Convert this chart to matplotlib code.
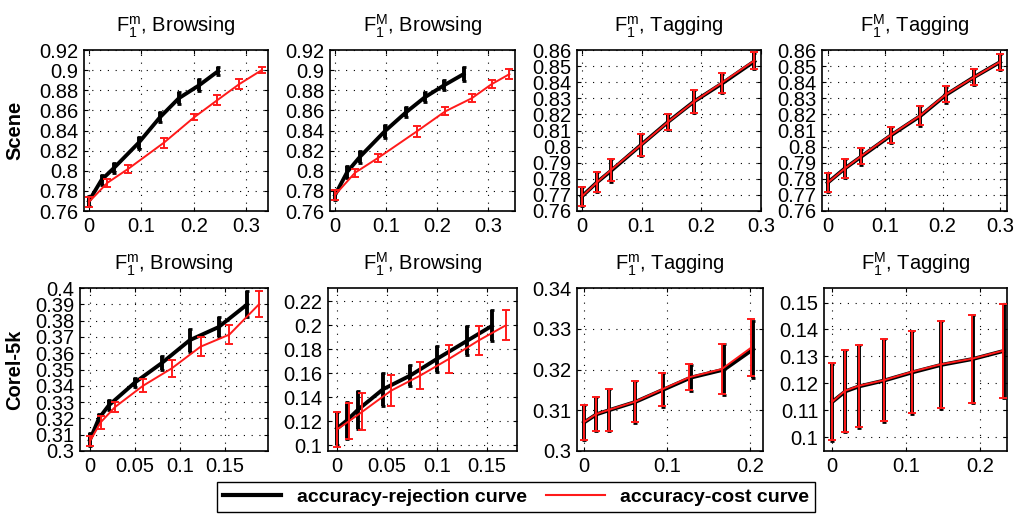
import numpy as np
import matplotlib
matplotlib.use('Agg')
import matplotlib.pyplot as plt

plt.rcParams['font.family'] = ['Liberation Sans', 'DejaVu Sans']
plt.rcParams['mathtext.default'] = 'regular'

# ---------- data ----------
# Scene, F1m, Browsing
s_bm_rej_x = [0, 0.024, 0.048, 0.095, 0.135, 0.171, 0.210, 0.246]
s_bm_rej_y = [0.770, 0.791, 0.803, 0.828, 0.853, 0.872, 0.885, 0.899]
s_bm_rej_e = [0.005, 0.005, 0.005, 0.006, 0.005, 0.006, 0.006, 0.004]
s_bm_cost_x = [0, 0.035, 0.075, 0.143, 0.200, 0.244, 0.286, 0.329]
s_bm_cost_y = [0.769, 0.788, 0.802, 0.828, 0.853, 0.870, 0.886, 0.900]
s_bm_cost_e = [0.005, 0.004, 0.004, 0.005, 0.003, 0.005, 0.005, 0.003]

# Scene, F1M, Browsing
s_bM_rej_x = [0, 0.024, 0.049, 0.097, 0.139, 0.176, 0.214, 0.252]
s_bM_rej_y = [0.776, 0.799, 0.814, 0.839, 0.858, 0.873, 0.885, 0.896]
s_bM_rej_e = [0.005, 0.006, 0.006, 0.006, 0.005, 0.005, 0.005, 0.007]
s_bM_cost_x = [0, 0.039, 0.085, 0.160, 0.216, 0.268, 0.307, 0.342]
s_bM_cost_y = [0.776, 0.798, 0.813, 0.839, 0.859, 0.872, 0.886, 0.896]
s_bM_cost_e = [0.005, 0.004, 0.004, 0.005, 0.004, 0.004, 0.004, 0.005]

# Scene, F1m, Tagging
s_tm_rej_x = [0, 0.026, 0.049, 0.099, 0.145, 0.188, 0.234, 0.289]
s_tm_rej_y = [0.769, 0.778, 0.785, 0.801, 0.8155, 0.828, 0.839, 0.853]
s_tm_rej_e = [0.006, 0.006, 0.007, 0.007, 0.005, 0.007, 0.006, 0.005]
s_tm_cost_x = [0, 0.026, 0.049, 0.099, 0.145, 0.188, 0.234, 0.289]
s_tm_cost_y = [0.769, 0.778, 0.7855, 0.801, 0.8155, 0.828, 0.8395, 0.8535]
s_tm_cost_e = [0.006, 0.006, 0.007, 0.007, 0.005, 0.007, 0.006, 0.005]

# Scene, F1M, Tagging
s_tM_rej_x = [0, 0.030, 0.058, 0.110, 0.161, 0.206, 0.254, 0.300]
s_tM_rej_y = [0.7776, 0.7865, 0.7937, 0.8070, 0.8190, 0.8322, 0.8430, 0.8525]
s_tM_rej_e = [0.006, 0.006, 0.005, 0.005, 0.006, 0.005, 0.005, 0.005]
s_tM_cost_x = [0, 0.030, 0.058, 0.110, 0.161, 0.206, 0.254, 0.300]
s_tM_cost_y = [0.7776, 0.7865, 0.7940, 0.8073, 0.8193, 0.8325, 0.8430, 0.8527]
s_tM_cost_e = [0.006, 0.006, 0.005, 0.005, 0.006, 0.005, 0.005, 0.005]

# Corel-5k, F1m, Browsing
c_bm_rej_x = [0, 0.010, 0.021, 0.050, 0.080, 0.111, 0.143, 0.175]
c_bm_rej_y = [0.3068, 0.320, 0.328, 0.342, 0.354, 0.368, 0.376, 0.390]
c_bm_rej_e = [0.004, 0.003, 0.003, 0.003, 0.004, 0.007, 0.006, 0.008]
c_bm_cost_x = [0, 0.012, 0.028, 0.059, 0.091, 0.123, 0.155, 0.188]
c_bm_cost_y = [0.306, 0.3176, 0.327, 0.340, 0.3507, 0.364, 0.3714, 0.390]
c_bm_cost_e = [0.003, 0.004, 0.003, 0.004, 0.005, 0.006, 0.006, 0.008]

# Corel-5k, F1M, Browsing
c_bM_rej_x = [0, 0.0097, 0.021, 0.046, 0.073, 0.100, 0.130, 0.155]
c_bM_rej_y = [0.1140, 0.1206, 0.1297, 0.1467, 0.1580, 0.1720, 0.1870, 0.1995]
c_bM_rej_e = [0.0140, 0.0156, 0.0157, 0.0139, 0.0090, 0.0110, 0.0120, 0.0130]
c_bM_cost_x = [0, 0.0123, 0.0253, 0.054, 0.083, 0.112, 0.142, 0.169]
c_bM_cost_y = [0.1133, 0.1203, 0.1280, 0.1455, 0.1580, 0.1720, 0.1875, 0.2000]
c_bM_cost_e = [0.0146, 0.0153, 0.0155, 0.0130, 0.0115, 0.0115, 0.0120, 0.0124]

# Corel-5k, F1m, Tagging
c_tm_rej_x = [0, 0.015, 0.030, 0.0614, 0.0950, 0.1285, 0.1690, 0.2040]
c_tm_rej_y = [0.3070, 0.3090, 0.3100, 0.3120, 0.3150, 0.3180, 0.3200, 0.3250]
c_tm_rej_e = [0.0043, 0.0042, 0.0052, 0.0051, 0.0041, 0.0032, 0.0062, 0.0070]
c_tm_cost_x = [0, 0.015, 0.030, 0.0614, 0.0940, 0.1270, 0.1660, 0.2010]
c_tm_cost_y = [0.3071, 0.3091, 0.3101, 0.3121, 0.3151, 0.3181, 0.3201, 0.3253]
c_tm_cost_e = [0.0043, 0.0042, 0.0052, 0.0051, 0.0041, 0.0032, 0.0062, 0.0070]

# Corel-5k, F1M, Tagging
c_tM_rej_x = [0, 0.0180, 0.0362, 0.0705, 0.1082, 0.1475, 0.1905, 0.2325]
c_tM_rej_y = [0.1130, 0.1170, 0.1188, 0.1210, 0.1240, 0.1268, 0.1290, 0.1320]
c_tM_rej_e = [0.0143, 0.0153, 0.0153, 0.0153, 0.0153, 0.0162, 0.0164, 0.0175]
c_tM_cost_x = [0, 0.0176, 0.0358, 0.0700, 0.1076, 0.1470, 0.1897, 0.2317]
c_tM_cost_y = [0.1131, 0.1172, 0.1190, 0.1211, 0.1242, 0.1270, 0.1291, 0.1321]
c_tM_cost_e = [0.0143, 0.0153, 0.0153, 0.0153, 0.0153, 0.0162, 0.0164, 0.0175]

titles = [r'$F_1^m$, Browsing', r'$F_1^M$, Browsing', r'$F_1^m$, Tagging', r'$F_1^M$, Tagging']
row_names = ['Scene', 'Corel-5k']

panels = [
    (s_bm_rej_x, s_bm_rej_y, s_bm_rej_e, s_bm_cost_x, s_bm_cost_y, s_bm_cost_e),
    (s_bM_rej_x, s_bM_rej_y, s_bM_rej_e, s_bM_cost_x, s_bM_cost_y, s_bM_cost_e),
    (s_tm_rej_x, s_tm_rej_y, s_tm_rej_e, s_tm_cost_x, s_tm_cost_y, s_tm_cost_e),
    (s_tM_rej_x, s_tM_rej_y, s_tM_rej_e, s_tM_cost_x, s_tM_cost_y, s_tM_cost_e),
    (c_bm_rej_x, c_bm_rej_y, c_bm_rej_e, c_bm_cost_x, c_bm_cost_y, c_bm_cost_e),
    (c_bM_rej_x, c_bM_rej_y, c_bM_rej_e, c_bM_cost_x, c_bM_cost_y, c_bM_cost_e),
    (c_tm_rej_x, c_tm_rej_y, c_tm_rej_e, c_tm_cost_x, c_tm_cost_y, c_tm_cost_e),
    (c_tM_rej_x, c_tM_rej_y, c_tM_rej_e, c_tM_cost_x, c_tM_cost_y, c_tM_cost_e),
]

# ---------- layout (pixel boxes from the reference) ----------
W, H = 1016, 515
boxes = [(84, 268, 50, 211), (330, 515, 50, 211), (577, 761, 50, 211), (822, 1007, 50, 211),
         (80, 268, 288, 451), (328, 517, 288, 451), (577, 763, 288, 451), (824, 1007, 288, 451)]
xlims = [(-0.0095, 0.341), (-0.01, 0.353), (-0.008, 0.300), (-0.01, 0.312),
         (-0.011, 0.198), (-0.009, 0.180), (-0.0084, 0.2157), (-0.011, 0.237)]
ylims = [(0.76, 0.92), (0.76, 0.92), (0.76, 0.86), (0.76, 0.86),
         (0.30, 0.40), (0.0953, 0.231), (0.30, 0.34), (0.0948, 0.1554)]
yticks = [np.arange(0.76, 0.921, 0.02), np.arange(0.76, 0.921, 0.02),
          np.arange(0.76, 0.861, 0.01), np.arange(0.76, 0.861, 0.01),
          np.arange(0.30, 0.401, 0.01), np.arange(0.10, 0.221, 0.02),
          np.arange(0.30, 0.341, 0.01), np.arange(0.10, 0.151, 0.01)]
xticks = [[0, 0.1, 0.2, 0.3]] * 4 + [[0, 0.05, 0.1, 0.15], [0, 0.05, 0.1, 0.15], [0, 0.1, 0.2], [0, 0.1, 0.2]]

red = '#ff1a1a'
short = plt.FuncFormatter(lambda v, p: ('%.2f' % v).rstrip('0').rstrip('.'))

fig = plt.figure(figsize=(W / 100, H / 100), dpi=100)

for i, (x0, x1, y0, y1) in enumerate(boxes):
    ax = fig.add_axes([x0 / W, 1 - y1 / H, (x1 - x0) / W, (y1 - y0) / H])
    rx, ry, re_, cx, cy, ce = panels[i]
    ax.errorbar(rx, ry, yerr=re_, color='k', lw=2.8, elinewidth=2.8, capsize=1.5, capthick=2.0, zorder=3)
    ax.errorbar(cx, cy, yerr=ce, color=red, lw=1.4, elinewidth=1.4, capsize=3, capthick=1.4, zorder=4)
    ax.set_xlim(*xlims[i])
    ax.set_ylim(*ylims[i])
    ax.set_xticks(xticks[i])
    ax.set_yticks(yticks[i])
    ax.xaxis.set_major_formatter(short)
    ax.yaxis.set_major_formatter(short)
    ax.tick_params(direction='in', top=True, right=True, length=3, width=0.8, labelsize=14.5, pad=4)
    ax.grid(True, color='k', linestyle=(0, (1, 6)), linewidth=0.8)
    for s in ax.spines.values():
        s.set_linewidth(1.2)
    ax.set_title(titles[i % 4], fontsize=14.5, pad=13)
    if i % 4 == 0:
        fig.text(15 / W, 1 - ((y0 + y1) / 2) / H, row_names[i // 4], rotation=90,
                 ha='center', va='center', fontsize=14.5, fontweight='bold')

h1, = plt.plot([], [], color='k', lw=3)
h2, = plt.plot([], [], color=red, lw=1.5)
leg = fig.legend([h1, h2], ['accuracy-rejection curve', 'accuracy-cost curve'], loc='center',
                 bbox_to_anchor=(516 / W, 1 - 497 / H), ncol=2, fancybox=False, edgecolor='k',
                 framealpha=1, handlelength=3, columnspacing=1.0, borderpad=0.3,
                 prop={'weight': 'bold', 'size': 14})
leg.get_frame().set_linewidth(1.0)

fig.savefig('out.png', dpi=100)
